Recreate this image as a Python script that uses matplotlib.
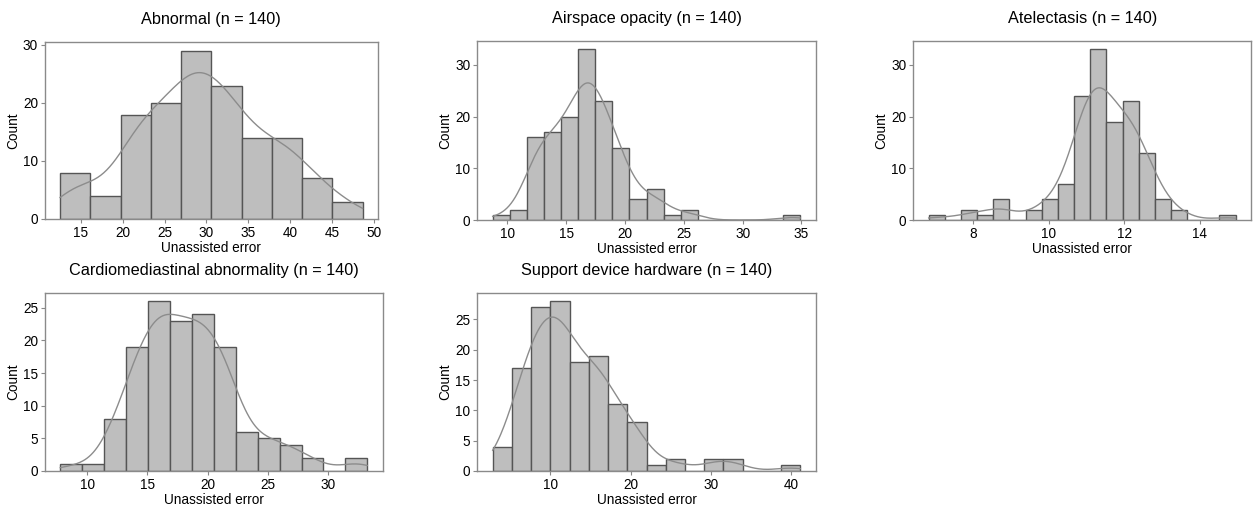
import numpy as np
import matplotlib
matplotlib.use("Agg")
import matplotlib.pyplot as plt

plt.rcParams['font.family'] = ['Liberation Sans', 'DejaVu Sans']

titles = ["Abnormal (n = 140)", "Airspace opacity (n = 140)", "Atelectasis (n = 140)",
          "Cardiomediastinal abnormality (n = 140)", "Support device hardware (n = 140)"]

# histogram range (min, max of the errors) and bin counts
abnormal_range = (12.52, 48.65)
abnormal_counts = [8, 4, 18, 20, 29, 23, 14, 14, 7, 3]

airspace_range = (8.75, 34.9)
airspace_counts = [1, 2, 16, 17, 20, 33, 23, 14, 4, 6, 1, 2, 0, 0, 0, 0, 0, 1]

atelectasis_range = (6.83, 14.95)
atelectasis_counts = [1, 0, 2, 1, 4, 0, 2, 4, 7, 24, 33, 19, 23, 13, 4, 2, 0, 0, 1]

cardio_range = (7.76, 33.27)
cardio_counts = [1, 1, 8, 19, 26, 23, 24, 19, 6, 5, 4, 2, 0, 2]

support_range = (2.81, 41.16)
support_counts = [4, 17, 27, 28, 18, 19, 11, 8, 1, 2, 0, 2, 2, 0, 0, 1]

xticks = [[15, 20, 25, 30, 35, 40, 45, 50], [10, 15, 20, 25, 30, 35], [8, 10, 12, 14],
          [10, 15, 20, 25, 30], [10, 20, 30, 40]]
yticks = [[0, 10, 20, 30], [0, 10, 20, 30], [0, 10, 20, 30],
          [0, 5, 10, 15, 20, 25], [0, 5, 10, 15, 20, 25]]

ranges = [abnormal_range, airspace_range, atelectasis_range, cardio_range, support_range]
counts = [abnormal_counts, airspace_counts, atelectasis_counts, cardio_counts, support_counts]
bw_adjust = [0.97, 1.0, 1.0, 0.9, 0.9]

W, H = 1254, 507
# axes boxes in pixels: left, top, right, bottom
boxes = [(45, 42.3, 377.7, 219), (477.3, 40.7, 815.7, 220), (913.3, 40.7, 1251, 220),
         (45, 292.7, 382.7, 471), (477.3, 292.7, 815.7, 471)]

fig = plt.figure(figsize=(W / 100, H / 100), dpi=100)

for i in range(5):
    l, t, r, b = boxes[i]
    ax = fig.add_axes([l / W, (H - b) / H, (r - l) / W, (b - t) / H])
    lo, hi = ranges[i]
    c = np.array(counts[i], dtype=float)
    edges = np.linspace(lo, hi, len(c) + 1)
    centers = (edges[:-1] + edges[1:]) / 2
    bw = edges[1] - edges[0]
    ax.hist(centers, bins=edges, weights=c, color='#bebebe', edgecolor='#555555', linewidth=1)

    # smoothed density of the binned values, scaled to counts
    n = c.sum()
    mean = (c * centers).sum() / n
    sd = np.sqrt((c * (centers - mean) ** 2).sum() / n)
    h = sd * n ** (-1 / 5) * bw_adjust[i]
    xs = np.linspace(lo, hi, 300)
    dens = (c[None, :] * np.exp(-0.5 * ((xs[:, None] - centers[None, :]) / h) ** 2)).sum(1)
    dens = dens / (n * h * np.sqrt(2 * np.pi))
    ax.plot(xs, dens * n * bw, color='#8c8c8c', linewidth=1)

    ax.set_xlim(lo - 0.05 * (hi - lo), hi + 0.05 * (hi - lo))
    ax.set_ylim(0, max(c) * 1.05)
    ax.set_xticks(xticks[i])
    ax.set_yticks(yticks[i])
    ax.tick_params(labelsize=9.8, length=3, width=0.8, color='#888888', pad=2)
    for s in ax.spines.values():
        s.set_color('#8a8a8a')
        s.set_linewidth(1)
    ax.set_xlabel("Unassisted error", fontsize=9.8, labelpad=1)
    ax.set_ylabel("Count", fontsize=9.8, labelpad=2)
    ax.set_title(titles[i], fontsize=11.7, pad=13)

fig.savefig("out.png", dpi=100)
